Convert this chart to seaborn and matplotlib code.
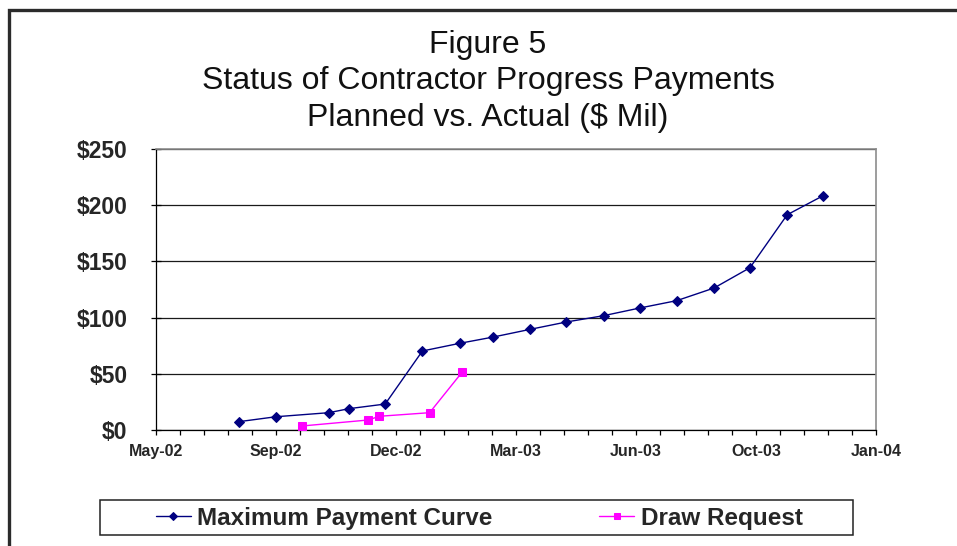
import numpy as np
import pandas as pd
import matplotlib
matplotlib.use("Agg")
import matplotlib.pyplot as plt
import matplotlib.dates as mdates
from matplotlib import font_manager
from matplotlib.patches import Rectangle
import seaborn as sns

# ---------------- data ----------------
title_lines = ["Figure 5", "Status of Contractor Progress Payments", "Planned vs. Actual ($ Mil)"]

plan_label = "Maximum Payment Curve"
plan_dates = ["2002-08-01", "2002-09-01", "2002-10-15", "2002-11-01", "2002-12-01",
              "2003-01-01", "2003-02-01", "2003-03-01", "2003-04-01", "2003-05-01",
              "2003-06-01", "2003-07-01", "2003-08-01", "2003-09-01", "2003-10-01",
              "2003-11-01", "2003-12-01"]
plan_values = [7.4, 11.8, 15.4, 19.0, 23.1, 70.3, 77.1, 82.7, 89.6, 96.1,
               101.7, 108.5, 115.1, 126.3, 144.4, 191.5, 208.5]

draw_label = "Draw Request"
draw_dates = ["2002-09-23", "2002-11-17", "2002-11-26", "2003-01-07", "2003-02-03"]
draw_values = [3.6, 8.9, 12.2, 15.4, 51.3]

y_ticks = [0, 50, 100, 150, 200, 250]
y_tick_labels = ["$0", "$50", "$100", "$150", "$200", "$250"]

x_start = "2002-05-24"   # Excel serial 37400
x_end = "2004-01-14"     # Excel serial 38000
x_major_days = 100
x_minor_days = 20

# ---------------- style ----------------
sns.set_style("white")
plt.rcParams["font.family"] = ["Liberation Sans", "DejaVu Sans"]

names = {f.name for f in font_manager.fontManager.ttflist}
if "Liberation Sans Narrow" in names:
    title_family = ["Liberation Sans Narrow", "Liberation Sans"]
    title_size = 27
else:
    title_family = ["Liberation Sans", "DejaVu Sans"]
    title_size = 23

W, H = 957, 546
fig = plt.figure(figsize=(W / 100, H / 100), dpi=100)
fig.patch.set_facecolor("white")

def px_rect(l, t, r, b):
    return [l / W, (H - b) / H, (r - l) / W, (b - t) / H]

ax = fig.add_axes(px_rect(156, 149, 876, 430))

plan_df = pd.DataFrame({"date": pd.to_datetime(plan_dates), "value": plan_values, "series": plan_label})
draw_df = pd.DataFrame({"date": pd.to_datetime(draw_dates), "value": draw_values, "series": draw_label})

sns.lineplot(data=plan_df, x="date", y="value", ax=ax, color="#000080", marker="D",
             markersize=5.2, markeredgecolor="#000080", linewidth=1.0, label=plan_label,
             estimator=None, zorder=4)
sns.lineplot(data=draw_df, x="date", y="value", ax=ax, color="#FF00FF", marker="s",
             markersize=6.0, markeredgecolor="#FF00FF", linewidth=1.0, label=draw_label,
             estimator=None, zorder=4)

# axes limits and ticks
x0 = pd.Timestamp(x_start)
x1 = pd.Timestamp(x_end)
ax.set_xlim(x0, x1)
ax.set_ylim(y_ticks[0], y_ticks[-1])

major = [x0 + pd.Timedelta(days=d) for d in range(0, (x1 - x0).days + 1, x_major_days)]
minor = [x0 + pd.Timedelta(days=d) for d in range(0, (x1 - x0).days + 1, x_minor_days)]
ax.set_xticks(major)
ax.set_xticks(minor, minor=True)
ax.xaxis.set_major_formatter(mdates.DateFormatter("%b-%y"))

ax.set_yticks(y_ticks)
ax.set_yticklabels(y_tick_labels)

ax.tick_params(axis="y", which="major", direction="inout", length=7.2, width=0.9,
               color="black", pad=17, labelsize=16.5)
ax.tick_params(axis="x", which="major", direction="out", length=3.8, width=0.9,
               color="black", pad=6.5, labelsize=11.5)
ax.tick_params(axis="x", which="minor", direction="out", length=3.4, width=0.9, color="black")
ax.tick_params(axis="x", which="minor", bottom=True)
ax.tick_params(axis="x", which="major", bottom=True)
ax.tick_params(axis="y", which="major", left=True)
for lab in ax.get_xticklabels() + ax.get_yticklabels():
    lab.set_fontweight("bold")

ax.set_xlabel("")
ax.set_ylabel("")

# grid (horizontal only)
ax.yaxis.grid(True, color="#1a1a1a", linewidth=0.9)
ax.xaxis.grid(False)
ax.set_axisbelow(True)

for side in ["left", "bottom"]:
    ax.spines[side].set_color("black")
    ax.spines[side].set_linewidth(0.9)
for side in ["top", "right"]:
    ax.spines[side].set_color("#8c8c8c")
    ax.spines[side].set_linewidth(1.2)

# legend (frameless, with separate box)
handles, labels = ax.get_legend_handles_labels()
ax.get_legend().remove()
leg = fig.legend(handles, labels, loc="center",
                 bbox_to_anchor=(479 / W, (H - 518) / H), ncol=2, frameon=False,
                 prop={"weight": "bold", "size": 17.5}, handlelength=1.45,
                 handletextpad=0.25, columnspacing=4.4, markerscale=0.8)
fig.patches.append(Rectangle((100 / W, (H - 535) / H), 753 / W, 35 / H,
                             transform=fig.transFigure, fill=False,
                             edgecolor="#222222", linewidth=1.1))

# outer chart border (extends beyond the right/bottom edges)
fig.patches.append(Rectangle((9 / W, -10 / H), (W + 20) / W, (H - 10 + 10) / H,
                             transform=fig.transFigure, fill=False,
                             edgecolor="#2b2b2b", linewidth=2.4))

# title lines
baselines = [53, 89, 126]
for txt, yb in zip(title_lines, baselines):
    fig.text(488 / W, (H - yb) / H, txt, ha="center", va="baseline",
             fontsize=title_size, family=title_family, color="#111111")

fig.savefig("out.png", dpi=100, facecolor="white")
